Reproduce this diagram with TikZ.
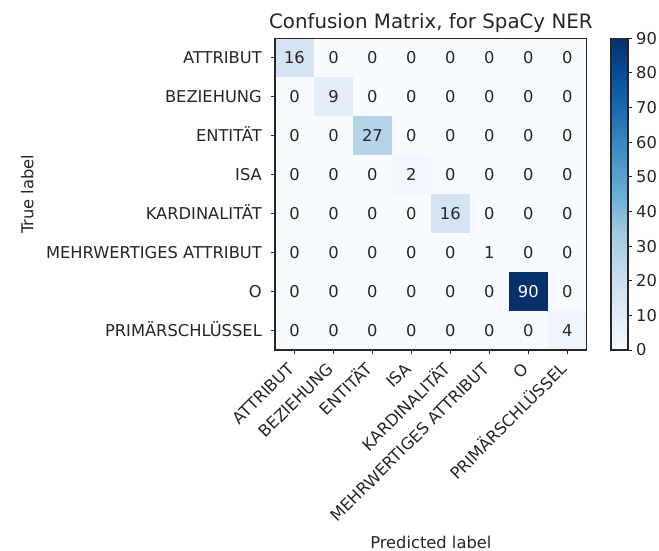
\documentclass[tikz,border=0pt]{standalone}
\usepackage{fontspec}
\setmainfont{DejaVu Sans}
\definecolor{b0}{HTML}{F7FBFF}
\definecolor{d1}{HTML}{D4E4F4}
\definecolor{d2}{HTML}{E3EEF9}
\definecolor{d3}{HTML}{B6D4E9}
\definecolor{d4}{HTML}{F2F8FE}
\definecolor{d5}{HTML}{D4E4F4}
\definecolor{d6}{HTML}{F5FAFE}
\definecolor{d7}{HTML}{08306B}
\definecolor{d8}{HTML}{EEF6FC}
\definecolor{cb0}{HTML}{F7FBFF}
\definecolor{cb1}{HTML}{DEEBF7}
\definecolor{cb2}{HTML}{C6DBEF}
\definecolor{cb3}{HTML}{9ECAE1}
\definecolor{cb4}{HTML}{6BAED6}
\definecolor{cb5}{HTML}{4292C6}
\definecolor{cb6}{HTML}{2171B5}
\definecolor{cb7}{HTML}{08519C}
\definecolor{cb8}{HTML}{08306B}
\definecolor{ink}{HTML}{262626}
\begin{document}
\begin{tikzpicture}[x=1pt,y=-1pt,
  lab/.style={font=\fontsize{16.3}{19}\selectfont, text=ink, inner sep=0pt},
  num/.style={lab, anchor=base},
  ttl/.style={font=\fontsize{19.8}{23}\selectfont, text=ink, inner sep=0pt, anchor=base},
  frame/.style={draw=ink, line width=1.1pt},
  tickline/.style={draw=ink, line width=1pt}]
\useasboundingbox[fill=white] (0,0) rectangle (659,551);
\def\cw{38.9625}
% cells
\fill[b0] (275,38.3) rectangle (586.7,350);
\foreach \i/\v/\c/\t in {1/16/d1/ink,2/9/d2/ink,3/27/d3/ink,4/2/d4/ink,5/16/d5/ink,6/1/d6/ink,7/90/d7/white,8/4/d8/ink}{
  \fill[\c] ({275+\cw*(\i-1)},{38.3+\cw*(\i-1)}) rectangle +(\cw,\cw);
  \node[num,text=\t] (n\i\i) at ({275+\cw*(\i-0.5)},{38.3+\cw*(\i-0.5)+5.9}) {\v};
}
\foreach \i in {1,...,8}{
  \foreach \j in {1,...,8}{
    \ifnum\i=\j\else
      \node[num] (n\i\j) at ({275+\cw*(\j-0.5)},{38.3+\cw*(\i-0.5)+5.9}) {0};
    \fi
  }
}
\draw[frame] (275,38.3) rectangle (586.7,350);
% row labels
\foreach \i/\l in {1/ATTRIBUT,2/BEZIEHUNG,3/ENTITÄT,4/ISA,5/KARDINALITÄT,6/MEHRWERTIGES ATTRIBUT,7/O,8/PRIMÄRSCHLÜSSEL}{
  \node[lab,anchor=base east] (r\i) at (262,{38.3+\cw*(\i-0.5)+5.9}) {\l};
  \draw[tickline] (271,{38.3+\cw*(\i-0.5)}) -- (275,{38.3+\cw*(\i-0.5)});
  \node[lab,anchor=base east,rotate=45] (c\i) at ({275+\cw*(\i-0.5)+1},370) {\l};
  \draw[tickline] ({275+\cw*(\i-0.5)},350) -- ({275+\cw*(\i-0.5)},354);
}
% axis labels and title
\node[ttl] (title) at (430.85,28.3) {Confusion Matrix, for SpaCy NER};
\node[lab,anchor=base,rotate=90] (ylab) at (33.3,194.2) {True label};
\node[lab,anchor=base] (xlab) at (430.85,548.3) {Predicted label};
% colorbar
\foreach \k [evaluate=\k as \kk using int(\k+1)] in {0,...,7}{
  \shade[bottom color=cb\k, top color=cb\kk] (611,{350-\cw*\k}) rectangle (628,{350-\cw*(\k+1)});
}
\draw[frame] (611,38.3) rectangle (628,350);
\foreach \v in {0,10,...,90}{
  \draw[tickline] (628,{350-\v/90*311.7}) -- (632,{350-\v/90*311.7});
  \node[lab,anchor=base west] (cbl\v) at (636,{350-\v/90*311.7+5.9}) {\v};
}
\end{tikzpicture}
\end{document}
